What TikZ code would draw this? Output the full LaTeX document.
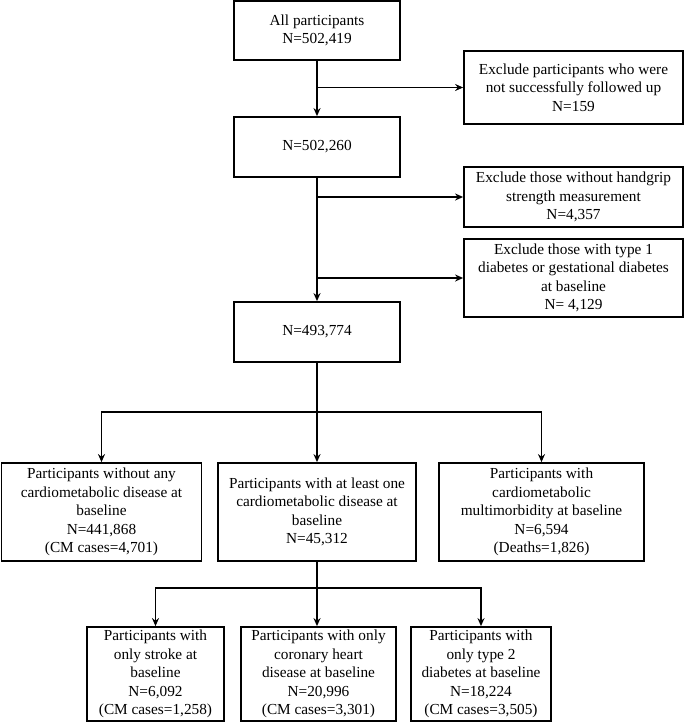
\documentclass[tikz,border=0pt]{standalone}
\usepackage{fontspec}
\setmainfont{Liberation Serif}
\usetikzlibrary{arrows.meta}
\tikzset{
  box/.style={draw, line width=1.8pt, align=center, inner sep=0pt,
    font=\fontsize{15.3}{18.5}\selectfont},
  conn/.style={line width=1.4pt},
  arr/.style={conn, -{Stealth[length=8pt,width=7pt]}}
}
\begin{document}
\begin{tikzpicture}[x=1pt,y=-1pt]
\useasboundingbox (0,0) rectangle (685,723);
% top column
\node[box, minimum width=166pt, minimum height=59pt] (b1) at (317,30.5) {All participants\\N=502,419};
\node[box, minimum width=166pt, minimum height=60pt] (b2) at (317,147) {N=502,260};
\node[box, minimum width=166pt, minimum height=60pt] (b3) at (317,332) {N=493,774};
% exclusion boxes
\node[box, minimum width=219pt, minimum height=73pt] (e1) at (573.5,87.5) {Exclude participants who were\\not successfully followed up\\N=159};
\node[box, minimum width=219pt, minimum height=60pt] (e2) at (573.5,197) {Exclude those without handgrip\\strength measurement\\N=4,357};
\node[box, minimum width=219pt, minimum height=78pt] (e3) at (573.5,278) {Exclude those with type 1\\diabetes or gestational diabetes\\at baseline\\N= 4,129};
% middle row
\node[box, minimum width=200pt, minimum height=98pt] (m1) at (101.5,512) {Participants without any\\cardiometabolic disease at\\baseline\\N=441,868\\(CM cases=4,701)};
\node[box, minimum width=198pt, minimum height=98pt] (m2) at (317,512) {Participants with at least one\\cardiometabolic disease at\\baseline\\N=45,312};
\node[box, minimum width=205pt, minimum height=98pt] (m3) at (541.5,512) {Participants with\\cardiometabolic\\multimorbidity at baseline\\N=6,594\\(Deaths=1,826)};
% bottom row
\node[box, minimum width=137pt, minimum height=94pt] (s1) at (155.5,674) {Participants with\\only stroke at\\baseline\\N=6,092\\(CM cases=1,258)};
\node[box, minimum width=155pt, minimum height=94pt] (s2) at (318.5,674) {Participants with only\\coronary heart\\disease at baseline\\N=20,996\\(CM cases=3,301)};
\node[box, minimum width=140pt, minimum height=94pt] (s3) at (481,674) {Participants with\\only type 2\\diabetes at baseline\\N=18,224\\(CM cases=3,505)};
% connectors top
\draw[arr] (b1.south) -- (b2.north);
\draw[arr] (b1.south |- e1.west) -- (e1.west);
\draw[arr] (b2.south) -- (b3.north);
\draw[arr] (b2.south |- e2.west) -- (e2.west);
\draw[arr] (b2.south |- e3.west) -- (e3.west);
% fork 1
\coordinate (f1) at (317,412);
\draw[conn] (b3.south) -- (f1);
\draw[arr] (f1) -| (m1.north);
\draw[arr] (f1) -| (m3.north);
\draw[arr] (f1) -- (f1 |- m2.north);
% fork 2
\coordinate (f2) at (317,588);
\draw[conn] (m2.south) -- (f2);
\draw[arr] (f2) -| (s1.north);
\draw[arr] (f2) -| (s3.north);
\draw[arr] (f2) -- (f2 |- s2.north);
\end{tikzpicture}
\end{document}
